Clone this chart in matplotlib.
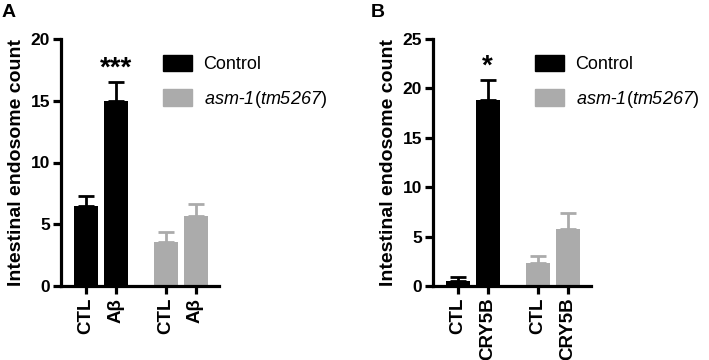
import matplotlib
matplotlib.use("Agg")
import matplotlib.pyplot as plt
from matplotlib.patches import Patch
from matplotlib import transforms as mtrans

plt.rcParams['font.family'] = ['Liberation Sans', 'DejaVu Sans']
plt.rcParams['mathtext.fontset'] = 'custom'
plt.rcParams['mathtext.it'] = 'Liberation Sans:italic:normal'
plt.rcParams['mathtext.rm'] = 'Liberation Sans:italic:normal'

# Panel A data
a_labels = ["CTL", "Aβ", "CTL", "Aβ"]
a_means = [6.5, 15.0, 3.55, 5.65]
a_err = [0.8, 1.55, 0.8, 0.95]
a_group = ["Control", "Control", "asm", "asm"]

# Panel B data
b_labels = ["CTL", "CRY5B", "CTL", "CRY5B"]
b_means = [0.5, 18.8, 2.3, 5.8]
b_err = [0.38, 2.05, 0.75, 1.6]
b_group = ["Control", "Control", "asm", "asm"]

positions = [0, 1, 2.667, 3.667]
colors = {"Control": "#000000", "asm": "#ababab"}
legend_labels = ["Control", r"$asm$-$1$($tm5267$)"]

W, H = 709, 360
fig = plt.figure(figsize=(W / 100, H / 100), dpi=100)


def panel(left_px, labels, means, errs, groups, ymax, star, star_y, letter, letter_x):
    ax = fig.add_axes([left_px / W, 74 / H, 158 / W, 247 / H])
    cols = [colors[g] for g in groups]
    ax.bar(positions, means, width=0.8, color=cols, zorder=2)
    for x, m, e, c in zip(positions, means, errs, cols):
        ax.errorbar([x], [m], yerr=[[0], [e]], fmt='none', ecolor=c,
                    elinewidth=2, capsize=5.5, capthick=2, zorder=1)
    ax.set_xlim(-0.82, 4.45)
    ax.set_ylim(0, ymax)
    ax.set_yticks(range(0, ymax + 1, 5))
    ax.set_xticks(positions)
    ax.set_xticklabels([])
    # x labels drawn as bold text below each tick
    base = mtrans.blended_transform_factory(ax.transData, ax.transAxes)
    tr = mtrans.offset_copy(base, fig=fig, x=0, y=-8.5, units='points')
    for x, lab in zip(positions, labels):
        ax.text(x, 0, lab, transform=tr, rotation=90, ha='center', va='top',
                fontsize=13.5, fontweight='bold', clip_on=False)
    for t in ax.get_yticklabels():
        t.set_fontsize(12.5)
        t.set_fontweight('bold')
    for s in ['top', 'right']:
        ax.spines[s].set_visible(False)
    for s in ['left', 'bottom']:
        ax.spines[s].set_linewidth(2.3)
    ax.tick_params(axis='both', length=6, width=2.3, pad=2)
    ax.set_ylabel("Intestinal endosome count", fontsize=14, fontweight='bold', labelpad=4)
    ax.text(1, star_y, star, ha='center', va='baseline', fontsize=20, fontweight='bold')
    handles = [Patch(color=colors["Control"]), Patch(color=colors["asm"])]
    ax.legend(handles, legend_labels, loc='upper left',
              bbox_to_anchor=(102 / 158, 0.935), frameon=False,
              prop={'size': 13, 'weight': 'normal'},
              handlelength=1.6, handleheight=1.0, handletextpad=0.65,
              labelspacing=0.85, borderaxespad=0, borderpad=0)
    fig.text(letter_x / W, 1 - 4 / H, letter, fontsize=14, fontweight='bold', va='top', ha='left')
    return ax


panel(61, a_labels, a_means, a_err, a_group, 20, "***", 17.0, "A", 2)
panel(433, b_labels, b_means, b_err, b_group, 25, "*", 21.5, "B", 371)

fig.savefig("out.png", dpi=100)
